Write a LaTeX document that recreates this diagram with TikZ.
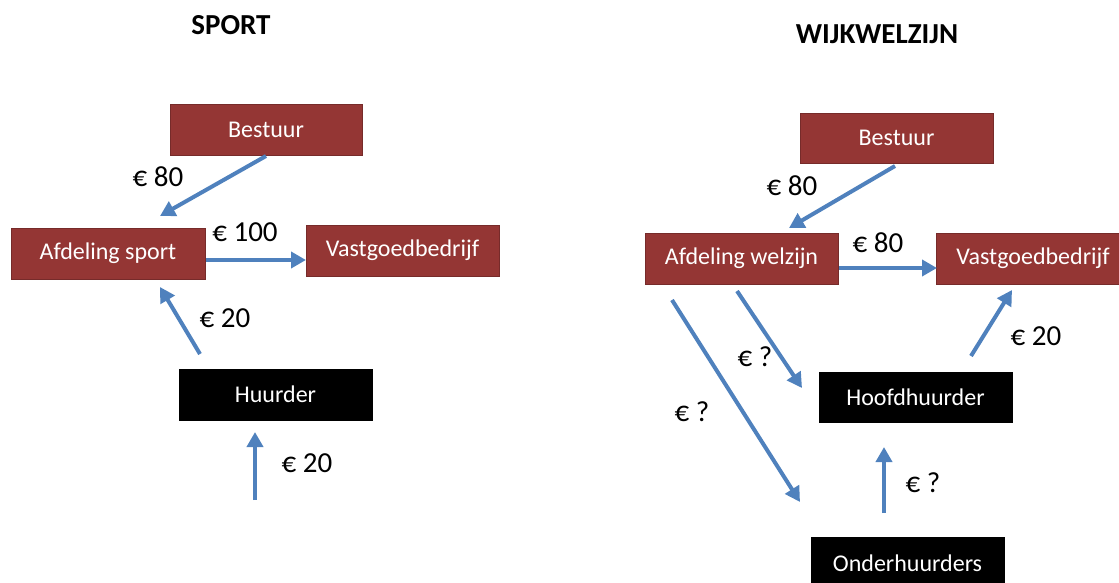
\documentclass[tikz,border=0pt]{standalone}
\usepackage{fontspec}
\setmainfont{Carlito}
\usetikzlibrary{arrows.meta}
\definecolor{boxred}{HTML}{943634}
\definecolor{arrowblue}{HTML}{4F81BD}
\begin{document}
\begin{tikzpicture}[x=1pt,y=-1pt,
  redbox/.style={rectangle, fill=boxred, draw=boxred!80!black, line width=0.6pt, text=white, font=\fontsize{24}{27}\selectfont, minimum width=193pt, minimum height=51pt, inner sep=0pt},
  blackbox/.style={redbox, fill=black, draw=black},
  money/.style={font=\fontsize{29}{32}\selectfont, inner sep=0pt},
  title/.style={font=\fontsize{29}{32}\selectfont\bfseries, inner sep=0pt},
  flow/.style={draw=arrowblue, line width=4pt, -{Triangle[length=15pt,width=16pt]}}
]
\useasboundingbox (0,0) rectangle (1119,583);
\clip (0,0) rectangle (1119,583);

% ---------- SPORT ----------
\node[title] (tsport) at (231,25) {SPORT};
\node[redbox, minimum width=192pt] (bestL) at (266,129.5) {Bestuur};
\node[redbox, minimum width=194pt] (afdS) at (108,253.5) {Afdeling sport};
\node[redbox] (vastL) at (402.5,250.5) {Vastgoedbedrijf};
\node[blackbox] (huur) at (275.5,394.5) {Huurder};

\coordinate (a1s) at (266,156);
\coordinate (a1e) at (160,216);
\coordinate (a2s) at (206,260);
\coordinate (a2e) at (306,260);
\coordinate (a3s) at (200,354);
\coordinate (a3e) at (160,287);
\coordinate (a4s) at (255,500);
\coordinate (a4e) at (255,432);

\draw[flow] (a1s) -- (a1e);
\draw[flow] (a2s) -- (a2e);
\draw[flow] (a3s) -- (a3e);
\draw[flow] (a4s) -- (a4e);

\node[money] (m1) at (158,177) {€ 80};
\node[money] (m2) at (245,232) {€ 100};
\node[money] (m3) at (225,318) {€ 20};
\node[money] (m4) at (307,463) {€ 20};

% ---------- WIJKWELZIJN ----------
\node[title] (twijk) at (877,34) {WIJKWELZIJN};
\node[redbox, minimum height=50pt] (bestR) at (896.5,138) {Bestuur};
\node[redbox] (afdW) at (741.5,258.5) {Afdeling welzijn};
\node[redbox] (vastR) at (1033,258.5) {Vastgoedbedrijf};
\node[blackbox, minimum height=50pt] (hoofd) at (915.5,397) {Hoofdhuurder};
\node[blackbox, minimum height=52pt] (onder) at (907.5,563) {Onderhuurders};

\coordinate (b1s) at (895,166);
\coordinate (b1e) at (789,228);
\coordinate (b2s) at (839,268);
\coordinate (b2e) at (937,268);
\coordinate (b3s) at (971,356);
\coordinate (b3e) at (1012,290);
\coordinate (b4s) at (737,291);
\coordinate (b4e) at (802,388);
\coordinate (b5s) at (672,300);
\coordinate (b5e) at (800,502);
\coordinate (b6s) at (884,513);
\coordinate (b6e) at (884,447);

\draw[flow] (b1s) -- (b1e);
\draw[flow] (b2s) -- (b2e);
\draw[flow] (b3s) -- (b3e);
\draw[flow] (b4s) -- (b4e);
\draw[flow] (b5s) -- (b5e);
\draw[flow] (b6s) -- (b6e);

\node[money] (n1) at (792,186) {€ 80};
\node[money] (n2) at (878,243) {€ 80};
\node[money] (n3) at (1036,336) {€ 20};
\node[money] (n4) at (755,357) {€ ?};
\node[money] (n5) at (692,412) {€ ?};
\node[money] (n6) at (923,483) {€ ?};
\end{tikzpicture}
\end{document}
